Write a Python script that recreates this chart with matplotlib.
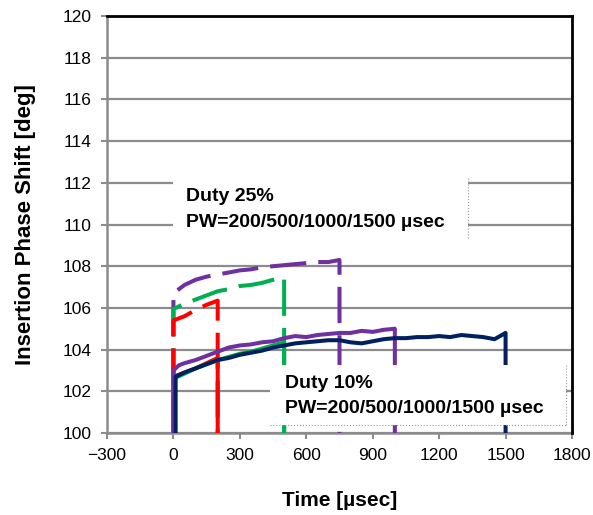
import matplotlib
matplotlib.use("Agg")
import matplotlib.pyplot as plt
from matplotlib.patches import Rectangle

plt.rcParams['font.family'] = ['Liberation Sans', 'DejaVu Sans']

# ----------------------------
# Data
# ----------------------------
# Duty 10% (solid lines)
t_red10 = [0, 0, 50, 100, 150, 200, 200]
v_red10 = [100, 102.7, 102.9, 103.1, 103.35, 103.6, 100]

t_green10 = [0, 0, 50, 100, 150, 200, 250, 300, 350, 400, 450, 500, 500]
v_green10 = [100, 102.6, 102.85, 103.1, 103.3, 103.5, 103.65, 103.8, 103.9, 104.05, 104.2, 104.35, 100]

t_purple10 = [0, 0, 25, 50, 100, 150, 200, 250, 300, 350, 400, 450, 500, 550, 600,
              650, 700, 750, 800, 850, 900, 950, 1000, 1000]
v_purple10 = [100, 103.0, 103.25, 103.35, 103.5, 103.7, 103.9, 104.1, 104.2, 104.25, 104.35,
              104.4, 104.55, 104.65, 104.6, 104.7, 104.75, 104.8, 104.8, 104.9, 104.85,
              104.95, 105.0, 100]

t_navy10 = [10, 10, 50, 100, 150, 200, 250, 300, 350, 400, 450, 500, 550, 600, 650, 700,
            750, 800, 850, 900, 950, 1000, 1050, 1100, 1150, 1200, 1250, 1300, 1350,
            1400, 1450, 1500, 1500]
v_navy10 = [100, 102.7, 102.9, 103.1, 103.3, 103.5, 103.6, 103.75, 103.85, 103.95, 104.1,
            104.2, 104.3, 104.35, 104.4, 104.45, 104.45, 104.35, 104.3, 104.4, 104.5,
            104.55, 104.55, 104.6, 104.6, 104.65, 104.6, 104.7, 104.65, 104.6, 104.5,
            104.8, 100]

# Duty 25% (dashed lines)
t_red25 = [0, 0, 25, 50, 100, 150, 200, 200]
v_red25 = [100, 105.4, 105.5, 105.6, 105.9, 106.15, 106.35, 100]

t_green25 = [0, 0, 50, 100, 150, 200, 250, 300, 350, 400, 450, 500, 500]
v_green25 = [100, 105.95, 106.2, 106.4, 106.6, 106.8, 106.9, 107.05, 107.1, 107.2, 107.35, 107.45, 100]

t_purple25 = [0, 0, 50, 100, 150, 200, 250, 300, 350, 400, 450, 500, 550, 600, 650, 700, 750, 750]
v_purple25 = [100, 106.7, 107.1, 107.35, 107.5, 107.6, 107.7, 107.8, 107.85, 107.95, 108.0,
              108.05, 108.1, 108.15, 108.2, 108.2, 108.3, 100]

x_ticks = [-300, 0, 300, 600, 900, 1200, 1500, 1800]
y_ticks = list(range(100, 121, 2))

label_25 = ["Duty 25%", "PW=200/500/1000/1500 \u00b5sec"]
label_10 = ["Duty 10%", "PW=200/500/1000/1500 \u00b5sec"]

RED, GREEN, PURPLE, NAVY = "#FF0000", "#00B050", "#7030A0", "#002060"
GRID = "#8c8c8c"

# ----------------------------
# Plot
# ----------------------------
fig = plt.figure(figsize=(5.93, 5.15), dpi=100)
ax = fig.add_axes([0.1804, 0.1592, 0.7842, 0.8097])

dash = (9, 3)
lw = 2.9
ax.plot(t_purple25, v_purple25, color=PURPLE, lw=lw, dashes=dash, zorder=3)
ax.plot(t_green25, v_green25, color=GREEN, lw=lw, dashes=dash, zorder=3)
ax.plot(t_red25, v_red25, color=RED, lw=lw, dashes=dash, zorder=3)

ax.plot(t_red10, v_red10, color=RED, lw=lw, zorder=3)
ax.plot(t_green10, v_green10, color=GREEN, lw=lw, zorder=3)
ax.plot(t_purple10, v_purple10, color=PURPLE, lw=lw, zorder=3)
ax.plot(t_navy10, v_navy10, color=NAVY, lw=lw, zorder=3)

ax.set_xlim(-300, 1800)
ax.set_ylim(100, 120)
ax.set_xticks(x_ticks)
ax.set_yticks(y_ticks)
ax.set_xticklabels([str(v).replace("-", "\u2212") for v in x_ticks])
ax.grid(axis='y', color=GRID, lw=1.6, zorder=1)
ax.set_axisbelow(True)

for side in ['left', 'bottom']:
    ax.spines[side].set_color(GRID)
    ax.spines[side].set_linewidth(1.8)
for side in ['top', 'right']:
    ax.spines[side].set_color('black')
    ax.spines[side].set_linewidth(2.0)
    ax.spines[side].set_zorder(6)
ax.tick_params(axis='both', direction='out', length=4, width=1.5, color=GRID,
               labelsize=12.5, pad=7)

ax.set_xlabel("Time [\u00b5sec]", fontsize=15, fontweight='bold', labelpad=20)
ax.set_ylabel("Insertion Phase Shift [deg]", fontsize=16, fontweight='bold', labelpad=19)

# text boxes
boxes = [((0.142, 0.468), 0.634, 0.143, label_25, 0.170, (0.566, 0.506)),
         ((0.351, 0.019), 0.636, 0.144, label_10, 0.383, (0.118, 0.058))]
for (x0, y0), w, h, lines, tx, tys in boxes:
    ax.add_patch(Rectangle((x0, y0), w, h, transform=ax.transAxes,
                           facecolor='white', edgecolor='none', zorder=4))
    ax.plot([x0 + w, x0 + w], [y0, y0 + h], transform=ax.transAxes,
            color='#999999', lw=0.8, ls=':', zorder=5)
    for txt, ty in zip(lines, tys):
        ax.text(tx, ty, txt, transform=ax.transAxes, ha='left', va='center',
                fontsize=14, fontweight='bold', zorder=5)
ax.plot([0.351, 0.987], [0.019, 0.019], transform=ax.transAxes,
        color='#999999', lw=0.8, ls=':', zorder=5)

fig.savefig("out.png", dpi=100)
